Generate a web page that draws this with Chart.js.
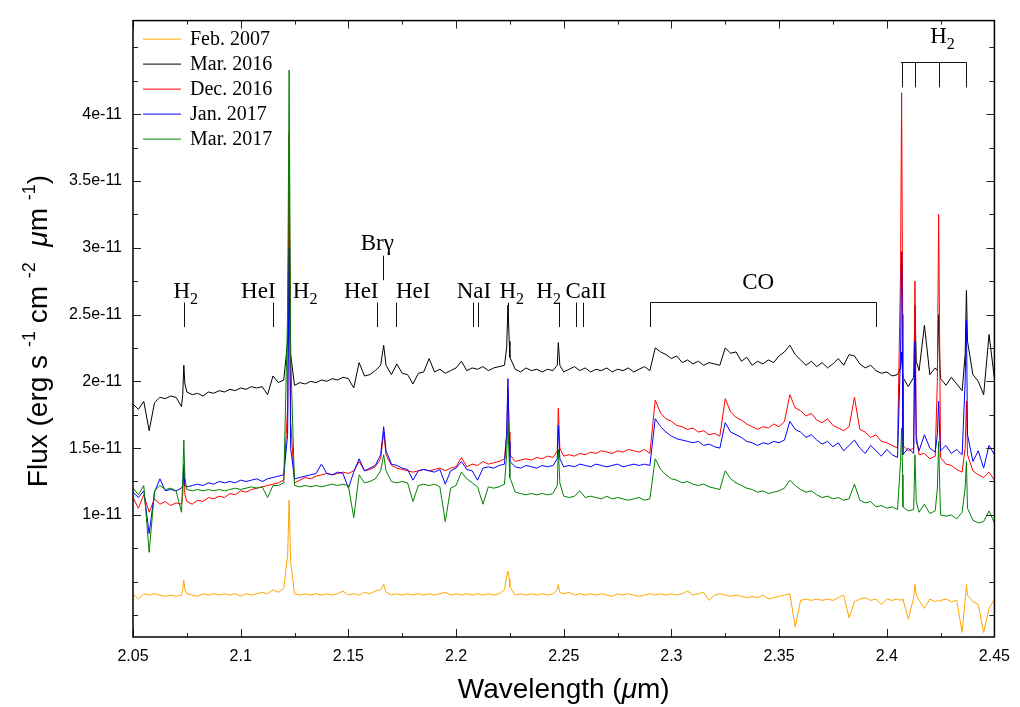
<!DOCTYPE html>
<html>
<head>
<meta charset="utf-8">
<title>Flux spectra</title>
<script src="https://cdn.jsdelivr.net/npm/chart.js@4.4.1/dist/chart.umd.min.js"></script>
<style>
  html, body { margin: 0; padding: 0; background: #fff; }
  #wrap { width: 1020px; height: 707px; }
</style>
</head>
<body>
<div id="wrap"><canvas id="spectrum" width="1020" height="707"></canvas></div>
<script>
// wavelength grid (µm), shared by every epoch
const wavelength = [
  2.0500, 2.0525, 2.0550, 2.0575, 2.0600, 2.0625, 2.0650, 2.0675, 2.0700, 2.0725,
  2.0731, 2.0736, 2.0741, 2.0750, 2.0775, 2.0800, 2.0825, 2.0850, 2.0875, 2.0900,
  2.0925, 2.0950, 2.0975, 2.1000, 2.1025, 2.1050, 2.1075, 2.1100, 2.1125, 2.1150,
  2.1175, 2.1200, 2.1218, 2.1225, 2.1232, 2.1250, 2.1275, 2.1300, 2.1325, 2.1350,
  2.1375, 2.1400, 2.1425, 2.1450, 2.1475, 2.1500, 2.1525, 2.1550, 2.1575, 2.1600,
  2.1625, 2.1650, 2.1664, 2.1675, 2.1700, 2.1725, 2.1750, 2.1775, 2.1800, 2.1825,
  2.1850, 2.1875, 2.1900, 2.1925, 2.1950, 2.1975, 2.2000, 2.2025, 2.2050, 2.2075,
  2.2100, 2.2125, 2.2150, 2.2175, 2.2200, 2.2225, 2.2235, 2.2241, 2.2247, 2.2250,
  2.2275, 2.2300, 2.2325, 2.2350, 2.2375, 2.2400, 2.2425, 2.2450, 2.2470, 2.2475,
  2.2482, 2.2500, 2.2525, 2.2550, 2.2575, 2.2600, 2.2625, 2.2650, 2.2675, 2.2700,
  2.2725, 2.2750, 2.2775, 2.2800, 2.2825, 2.2850, 2.2875, 2.2900, 2.2925, 2.2950,
  2.2975, 2.3000, 2.3025, 2.3050, 2.3075, 2.3100, 2.3125, 2.3150, 2.3175, 2.3200,
  2.3225, 2.3250, 2.3275, 2.3300, 2.3325, 2.3350, 2.3375, 2.3400, 2.3425, 2.3450,
  2.3475, 2.3500, 2.3525, 2.3550, 2.3575, 2.3600, 2.3625, 2.3650, 2.3675, 2.3700,
  2.3725, 2.3750, 2.3775, 2.3800, 2.3825, 2.3850, 2.3875, 2.3900, 2.3925, 2.3950,
  2.3975, 2.4000, 2.4025, 2.4050, 2.4064, 2.4069, 2.4074, 2.4075, 2.4100, 2.4125,
  2.4131, 2.4137, 2.4150, 2.4175, 2.4200, 2.4225, 2.4235, 2.4241, 2.4247, 2.4250,
  2.4275, 2.4300, 2.4325, 2.4350, 2.4364, 2.4370, 2.4375, 2.4400, 2.4425, 2.4450,
  2.4475, 2.4500
];

// flux in units of 1e-11 erg s-1 cm-2 µm-1
const fluxFeb2007 = [
  0.41, 0.37, 0.41, 0.40, 0.41, 0.40, 0.39, 0.40, 0.39, 0.40,
  0.44, 0.51, 0.44, 0.41, 0.40, 0.39, 0.41, 0.40, 0.41, 0.40,
  0.41, 0.40, 0.41, 0.39, 0.41, 0.40, 0.41, 0.42, 0.41, 0.44,
  0.42, 0.45, 0.70, 1.11, 0.65, 0.41, 0.40, 0.41, 0.40, 0.41,
  0.40, 0.41, 0.40, 0.41, 0.43, 0.40, 0.41, 0.40, 0.42, 0.41,
  0.43, 0.44, 0.48, 0.42, 0.40, 0.41, 0.40, 0.41, 0.40, 0.41,
  0.40, 0.41, 0.40, 0.41, 0.42, 0.40, 0.41, 0.40, 0.41, 0.40,
  0.41, 0.40, 0.41, 0.40, 0.41, 0.44, 0.54, 0.58, 0.52, 0.46,
  0.40, 0.41, 0.40, 0.41, 0.40, 0.41, 0.40, 0.41, 0.44, 0.48,
  0.42, 0.41, 0.42, 0.40, 0.41, 0.40, 0.41, 0.40, 0.41, 0.40,
  0.39, 0.41, 0.40, 0.41, 0.40, 0.39, 0.40, 0.41, 0.40, 0.41,
  0.40, 0.41, 0.40, 0.41, 0.43, 0.40, 0.41, 0.42, 0.36, 0.40,
  0.41, 0.40, 0.39, 0.40, 0.39, 0.38, 0.39, 0.38, 0.40, 0.37,
  0.38, 0.39, 0.40, 0.41, 0.16, 0.36, 0.37, 0.36, 0.37, 0.36,
  0.37, 0.36, 0.38, 0.40, 0.23, 0.35, 0.37, 0.38, 0.36, 0.37,
  0.33, 0.37, 0.36, 0.37, 0.36, 0.37, 0.36, 0.37, 0.22, 0.38,
  0.48, 0.40, 0.36, 0.30, 0.37, 0.35, 0.36, 0.36, 0.35, 0.36,
  0.37, 0.35, 0.36, 0.12, 0.36, 0.48, 0.40, 0.35, 0.33, 0.12,
  0.30, 0.37
];

const fluxMar2016 = [
  1.83, 1.79, 1.85, 1.63, 1.84, 1.88, 1.87, 1.89, 1.88, 1.81,
  1.90, 2.12, 1.98, 1.92, 1.90, 1.91, 1.89, 1.92, 1.91, 1.93,
  1.92, 1.94, 1.93, 1.95, 1.94, 1.96, 1.95, 1.96, 1.90, 2.04,
  1.99, 2.01, 2.30, 3.40, 2.20, 1.97, 1.99, 1.98, 2.00, 1.99,
  2.01, 2.00, 2.02, 2.01, 2.03, 2.02, 1.95, 2.14, 2.04, 2.05,
  2.08, 2.12, 2.27, 2.12, 2.05, 2.13, 2.06, 2.05, 1.98, 2.06,
  2.07, 2.17, 2.07, 2.09, 2.06, 2.08, 2.10, 2.15, 2.08, 2.10,
  2.09, 2.11, 2.08, 2.10, 2.11, 2.12, 2.25, 2.57, 2.30, 2.18,
  2.09, 2.07, 2.10, 2.08, 2.09, 2.07, 2.09, 2.08, 2.12, 2.29,
  2.12, 2.07, 2.09, 2.11, 2.08, 2.10, 2.07, 2.09, 2.08, 2.10,
  2.07, 2.09, 2.08, 2.10, 2.07, 2.09, 2.11, 2.08, 2.25, 2.22,
  2.20, 2.17, 2.19, 2.14, 2.16, 2.13, 2.15, 2.12, 2.14, 2.13,
  2.12, 2.25, 2.21, 2.22, 2.15, 2.18, 2.12, 2.15, 2.13, 2.16,
  2.14, 2.19, 2.22, 2.27, 2.20, 2.16, 2.12, 2.15, 2.11, 2.14,
  2.10, 2.13, 2.17, 2.12, 2.20, 2.19, 2.13, 2.10, 2.12, 2.08,
  2.06, 2.07, 2.04, 2.05, 2.10, 2.22, 2.05, 2.03, 1.96, 2.03,
  2.57, 2.15, 2.08, 2.42, 2.05, 2.10, 2.08, 2.50, 2.12, 2.02,
  1.97, 2.03, 1.98, 1.93, 2.20, 2.68, 2.30, 2.05, 2.00, 1.90,
  2.35, 2.02
];

const fluxDec2016 = [
  1.13, 1.05, 1.15, 1.02, 1.12, 1.08, 1.10, 1.07, 1.09, 1.08,
  1.15, 1.38, 1.15, 1.10, 1.08, 1.11, 1.10, 1.13, 1.12, 1.14,
  1.13, 1.16, 1.15, 1.18, 1.17, 1.19, 1.20, 1.21, 1.22, 1.23,
  1.24, 1.26, 1.80, 3.86, 1.70, 1.24, 1.26, 1.28, 1.27, 1.29,
  1.30, 1.31, 1.30, 1.31, 1.32, 1.31, 1.33, 1.40, 1.33, 1.34,
  1.36, 1.42, 1.62, 1.45, 1.37, 1.35, 1.34, 1.33, 1.32, 1.33,
  1.34, 1.33, 1.34, 1.35, 1.33, 1.35, 1.36, 1.43, 1.36, 1.38,
  1.37, 1.40, 1.38, 1.39, 1.40, 1.42, 1.60, 1.95, 1.62, 1.45,
  1.40, 1.41, 1.42, 1.41, 1.43, 1.42, 1.44, 1.43, 1.48, 1.80,
  1.50, 1.44, 1.45, 1.44, 1.46, 1.45, 1.47, 1.46, 1.48, 1.47,
  1.46, 1.48, 1.47, 1.49, 1.48, 1.47, 1.49, 1.46, 1.86, 1.76,
  1.72, 1.70, 1.67, 1.66, 1.64, 1.65, 1.62, 1.63, 1.60, 1.61,
  1.59, 1.87, 1.77, 1.73, 1.71, 1.68, 1.66, 1.64, 1.66, 1.65,
  1.68, 1.66, 1.70, 1.90, 1.80, 1.78, 1.74, 1.76, 1.71, 1.69,
  1.72, 1.67, 1.65, 1.63, 1.66, 1.88, 1.64, 1.62, 1.58, 1.60,
  1.55, 1.54, 1.52, 1.50, 2.80, 4.16, 2.50, 1.52, 1.48, 1.50,
  2.75, 1.60, 1.45, 1.46, 1.42, 1.44, 2.00, 3.25, 2.00, 1.43,
  1.38, 1.37, 1.34, 1.32, 1.50, 1.85, 1.45, 1.33, 1.30, 1.28,
  1.32, 1.26
];

const fluxJan2017 = [
  1.17, 1.13, 1.18, 0.86, 1.17, 1.27, 1.18, 1.19, 1.18, 1.20,
  1.22, 1.35, 1.22, 1.21, 1.22, 1.23, 1.22, 1.24, 1.23, 1.25,
  1.24, 1.25, 1.24, 1.26, 1.25, 1.26, 1.27, 1.25, 1.27, 1.28,
  1.29, 1.30, 1.60, 3.00, 1.50, 1.27, 1.28, 1.29, 1.30, 1.31,
  1.38, 1.31, 1.30, 1.32, 1.31, 1.20, 1.32, 1.42, 1.33, 1.35,
  1.37, 1.45, 1.66, 1.48, 1.38, 1.37, 1.35, 1.34, 1.26, 1.33,
  1.34, 1.33, 1.32, 1.34, 1.23, 1.33, 1.35, 1.40, 1.34, 1.33,
  1.26, 1.35, 1.36, 1.35, 1.37, 1.38, 1.60, 2.02, 1.55, 1.40,
  1.36, 1.35, 1.37, 1.36, 1.35, 1.37, 1.36, 1.37, 1.42, 1.67,
  1.42, 1.36, 1.37, 1.36, 1.38, 1.37, 1.36, 1.38, 1.37, 1.36,
  1.37, 1.38, 1.36, 1.37, 1.38, 1.37, 1.38, 1.37, 1.72, 1.66,
  1.62, 1.59, 1.57, 1.56, 1.55, 1.54, 1.55, 1.52, 1.53, 1.51,
  1.50, 1.69, 1.62, 1.60, 1.58, 1.55, 1.54, 1.52, 1.54, 1.53,
  1.55, 1.54, 1.56, 1.70, 1.64, 1.62, 1.58, 1.60, 1.56, 1.53,
  1.55, 1.51, 1.54, 1.48, 1.52, 1.56, 1.50, 1.46, 1.52, 1.48,
  1.44, 1.49, 1.45, 1.43, 2.20, 2.97, 2.00, 1.45, 1.50, 1.46,
  2.30, 1.55, 1.48, 1.60, 1.50, 1.47, 1.60, 1.85, 1.55, 1.48,
  1.52, 1.46, 1.49, 1.45, 2.00, 2.46, 1.60, 1.40, 1.48, 1.35,
  1.52, 1.45
];

const fluxMar2017 = [
  1.20, 1.15, 1.22, 0.72, 1.18, 1.22, 1.19, 1.20, 1.18, 1.02,
  1.25, 1.56, 1.28, 1.19, 1.18, 1.19, 1.18, 1.19, 1.18, 1.19,
  1.18, 1.19, 1.20, 1.19, 1.20, 1.21, 1.20, 1.21, 1.13, 1.22,
  1.22, 1.24, 2.50, 4.33, 2.20, 1.22, 1.21, 1.22, 1.21, 1.22,
  1.21, 1.22, 1.23, 1.22, 1.23, 1.22, 0.98, 1.30, 1.24, 1.25,
  1.27, 1.33, 1.45, 1.33, 1.25, 1.24, 1.25, 1.24, 1.10, 1.22,
  1.23, 1.22, 1.23, 1.21, 0.95, 1.20, 1.22, 1.32, 1.27, 1.24,
  1.21, 1.08, 1.21, 1.20, 1.21, 1.23, 1.45, 1.70, 1.40, 1.28,
  1.17, 1.16, 1.15, 1.16, 1.15, 1.16, 1.15, 1.16, 1.22, 1.49,
  1.24, 1.14, 1.13, 1.14, 1.18, 1.13, 1.14, 1.13, 1.12, 1.14,
  1.12, 1.13, 1.12, 1.11, 1.12, 1.13, 1.11, 1.12, 1.42, 1.34,
  1.30, 1.27, 1.26, 1.24, 1.25, 1.23, 1.22, 1.23, 1.21, 1.20,
  1.19, 1.33, 1.27, 1.24, 1.22, 1.20, 1.19, 1.17, 1.18, 1.16,
  1.17, 1.18, 1.20, 1.26, 1.22, 1.19, 1.17, 1.18, 1.15, 1.13,
  1.14, 1.12, 1.13, 1.11, 1.12, 1.23, 1.11, 1.09, 1.10, 1.06,
  1.07, 1.05, 1.06, 1.04, 1.40, 1.65, 1.30, 1.06, 1.03, 1.04,
  1.45, 1.10, 1.02, 1.08, 1.01, 1.03, 1.20, 1.55, 1.15, 1.00,
  0.99, 1.00, 0.97, 1.02, 1.20, 1.40, 1.05, 0.96, 0.94, 0.95,
  1.03, 0.94
];

const seriesNames = ['Feb. 2007', 'Mar. 2016', 'Dec. 2016', 'Jan. 2017', 'Mar. 2017'];
const seriesFlux = [fluxFeb2007, fluxMar2016, fluxDec2016, fluxJan2017, fluxMar2017];
const seriesColors = ['#ffa500', '#000000', '#ff0000', '#0000ff', '#008000'];

// tick values
const xMajor = [2.05, 2.1, 2.15, 2.2, 2.25, 2.3, 2.35, 2.4, 2.45];
const xMinor = [2.075, 2.125, 2.175, 2.225, 2.275, 2.325, 2.375, 2.425];
const yMajor = [1, 1.5, 2, 2.5, 3, 3.5, 4];
const yMinor = [0.25, 0.5, 0.75, 1.25, 1.75, 2.25, 2.75, 3.25, 3.75, 4.25, 4.5];

// line identifications: [label, subscript, wavelength of label centre, flux of label centre]
const lineLabels = [
  ['H', '2', 2.0745, 2.68],
  ['HeI', '', 2.1082, 2.68],
  ['H', '2', 2.1299, 2.68],
  ['HeI', '', 2.1560, 2.68],
  ['HeI', '', 2.1801, 2.68],
  ['Br\u03b3', '', 2.1634, 3.04],
  ['NaI', '', 2.2083, 2.68],
  ['H', '2', 2.2259, 2.68],
  ['H', '2', 2.2430, 2.68],
  ['CaII', '', 2.2603, 2.68],
  ['CO', '', 2.3403, 2.75],
  ['H', '2', 2.4259, 4.59]
];
const lineMarks = [2.0736, 2.1149, 2.1631, 2.1721, 2.2080, 2.2102, 2.2241, 2.2480, 2.2559, 2.2589];
const brGammaMark = 2.1663;
const coBand = [2.2901, 2.3951];
const h2Qbranch = [2.4071, 2.4131, 2.4241, 2.4370];

const SANS = '"Liberation Sans", Arial, Helvetica, sans-serif';
const SERIF = '"Liberation Serif", "Times New Roman", Times, serif';

// draw a run of text pieces centred on (x, y)
function drawPieces(ctx, pieces, x, y) {
  let total = 0;
  pieces.forEach(p => { ctx.font = p.font; p.w = ctx.measureText(p.t).width; total += p.w; });
  let cx = x - total / 2;
  ctx.textAlign = 'left';
  ctx.textBaseline = 'alphabetic';
  pieces.forEach(p => {
    ctx.font = p.font;
    ctx.fillText(p.t, cx, y + (p.dy || 0));
    cx += p.w;
  });
}

const framePlugin = {
  id: 'frameTicks',
  afterDatasetsDraw(chart) {
    const { ctx, chartArea: a, scales: { x, y } } = chart;
    ctx.save();
    ctx.strokeStyle = '#222';
    ctx.lineWidth = 1;
    const seg = (x1, y1, x2, y2) => { ctx.beginPath(); ctx.moveTo(x1, y1); ctx.lineTo(x2, y2); ctx.stroke(); };
    xMajor.forEach(v => { const p = Math.round(x.getPixelForValue(v)) + 0.5; seg(p, a.bottom, p, a.bottom - 8); seg(p, a.top, p, a.top + 8); });
    xMinor.forEach(v => { const p = Math.round(x.getPixelForValue(v)) + 0.5; seg(p, a.bottom, p, a.bottom - 4); seg(p, a.top, p, a.top + 4); });
    yMajor.forEach(v => { const p = Math.round(y.getPixelForValue(v)) + 0.5; seg(a.left, p, a.left + 8, p); seg(a.right, p, a.right - 8, p); });
    yMinor.forEach(v => { const p = Math.round(y.getPixelForValue(v)) + 0.5; seg(a.left, p, a.left + 5, p); seg(a.right, p, a.right - 5, p); });
    ctx.strokeStyle = '#000';
    ctx.lineWidth = 1.5;
    ctx.strokeRect(a.left, a.top, a.right - a.left, a.bottom - a.top);
    ctx.restore();
  }
};

const annotationPlugin = {
  id: 'lineIds',
  afterDatasetsDraw(chart) {
    const { ctx, scales: { x, y } } = chart;
    ctx.save();
    ctx.fillStyle = '#000';
    ctx.strokeStyle = '#111';
    ctx.lineWidth = 1;
    const seg = (x1, y1, x2, y2) => { ctx.beginPath(); ctx.moveTo(x1, y1); ctx.lineTo(x2, y2); ctx.stroke(); };
    const px = w => Math.round(x.getPixelForValue(w)) + 0.5;

    lineMarks.forEach(w => seg(px(w), y.getPixelForValue(2.589), px(w), y.getPixelForValue(2.406)));
    seg(px(brGammaMark), y.getPixelForValue(2.94), px(brGammaMark), y.getPixelForValue(2.757));

    // CO bracket
    const coTop = Math.round(y.getPixelForValue(2.596)) + 0.5;
    const coEnd = y.getPixelForValue(2.406);
    seg(px(coBand[0]), coTop, px(coBand[1]), coTop);
    coBand.forEach(w => seg(px(w), coTop, px(w), coEnd));

    // H2 Q-branch bracket
    const qTop = Math.round(y.getPixelForValue(4.39)) + 0.5;
    const qEnd = y.getPixelForValue(4.20);
    seg(px(h2Qbranch[0]) - 1.5, qTop, px(h2Qbranch[3]), qTop);
    h2Qbranch.forEach(w => seg(px(w), qTop, px(w), qEnd));

    lineLabels.forEach(([t, sub, w, f]) => {
      const pieces = [{ t: t, font: '23px ' + SERIF }];
      if (sub) pieces.push({ t: sub, font: '16px ' + SERIF, dy: 6 });
      drawPieces(ctx, pieces, x.getPixelForValue(w), y.getPixelForValue(f) + 8);
    });
    ctx.restore();
  }
};

const legendPlugin = {
  id: 'insetLegend',
  afterDatasetsDraw(chart) {
    const { ctx, chartArea: a } = chart;
    ctx.save();
    ctx.font = '20px ' + SERIF;
    ctx.textAlign = 'left';
    ctx.textBaseline = 'middle';
    seriesNames.forEach((name, i) => {
      const ry = a.top + 18 + i * 25;
      ctx.strokeStyle = seriesColors[i];
      ctx.lineWidth = 1;
      ctx.beginPath();
      ctx.moveTo(a.left + 10, ry + 0.5);
      ctx.lineTo(a.left + 48, ry + 0.5);
      ctx.stroke();
      ctx.fillStyle = '#000';
      ctx.fillText(name, a.left + 57, ry + 1);
    });
    ctx.restore();
  }
};

const titlePlugin = {
  id: 'axisTitles',
  afterDraw(chart) {
    const { ctx, chartArea: a } = chart;
    ctx.save();
    ctx.fillStyle = '#000';
    const big = '28px ' + SANS;
    const ital = 'italic 28px ' + SANS;
    const sup = '18px ' + SANS;
    drawPieces(ctx, [
      { t: 'Wavelength (', font: big },
      { t: '\u03bc', font: ital },
      { t: 'm)', font: big }
    ], (a.left + a.right) / 2, 698);

    ctx.translate(47, 331);
    ctx.rotate(-Math.PI / 2);
    drawPieces(ctx, [
      { t: 'Flux (erg s ', font: big },
      { t: '-1', font: sup, dy: -12 },
      { t: ' cm ', font: big },
      { t: '-2', font: sup, dy: -12 },
      { t: '  ', font: big },
      { t: '\u03bc', font: ital },
      { t: 'm ', font: big },
      { t: '-1', font: sup, dy: -12 },
      { t: ')', font: big }
    ], 0, 0);
    ctx.restore();
  }
};

const ctx = document.getElementById('spectrum').getContext('2d');
const spectrumChart = new Chart(ctx, {
  type: 'line',
  data: {
    datasets: seriesNames.map((name, i) => ({
      label: name,
      data: wavelength.map((w, k) => ({ x: w, y: seriesFlux[i][k] })),
      borderColor: seriesColors[i],
      borderWidth: 1,
      pointRadius: 0,
      tension: 0,
      fill: false,
      order: [4, 3, 2, 1, 0][i]
    }))
  },
  options: {
    responsive: false,
    animation: false,
    layout: { padding: { top: 6, right: 23, left: 0, bottom: 0 } },
    plugins: { legend: { display: false }, tooltip: { enabled: false } },
    scales: {
      x: {
        type: 'linear',
        min: 2.05,
        max: 2.45,
        grid: { display: false, drawTicks: false },
        border: { display: false },
        afterBuildTicks: scale => { scale.ticks = xMajor.map(v => ({ value: v })); },
        afterFit: scale => { scale.height = 70; },
        ticks: {
          autoSkip: false,
          maxRotation: 0,
          padding: 10,
          color: '#000',
          font: { family: SANS, size: 16 },
          callback: v => String(v)
        }
      },
      y: {
        min: 0.086,
        max: 4.70,
        grid: { display: false, drawTicks: false },
        border: { display: false },
        afterBuildTicks: scale => { scale.ticks = yMajor.map(v => ({ value: v })); },
        afterFit: scale => { scale.width = 133; },
        ticks: {
          autoSkip: false,
          padding: 11,
          color: '#000',
          font: { family: SANS, size: 16 },
          callback: v => v + 'e-11'
        }
      }
    }
  },
  plugins: [framePlugin, annotationPlugin, legendPlugin, titlePlugin]
});
</script>
</body>
</html>
